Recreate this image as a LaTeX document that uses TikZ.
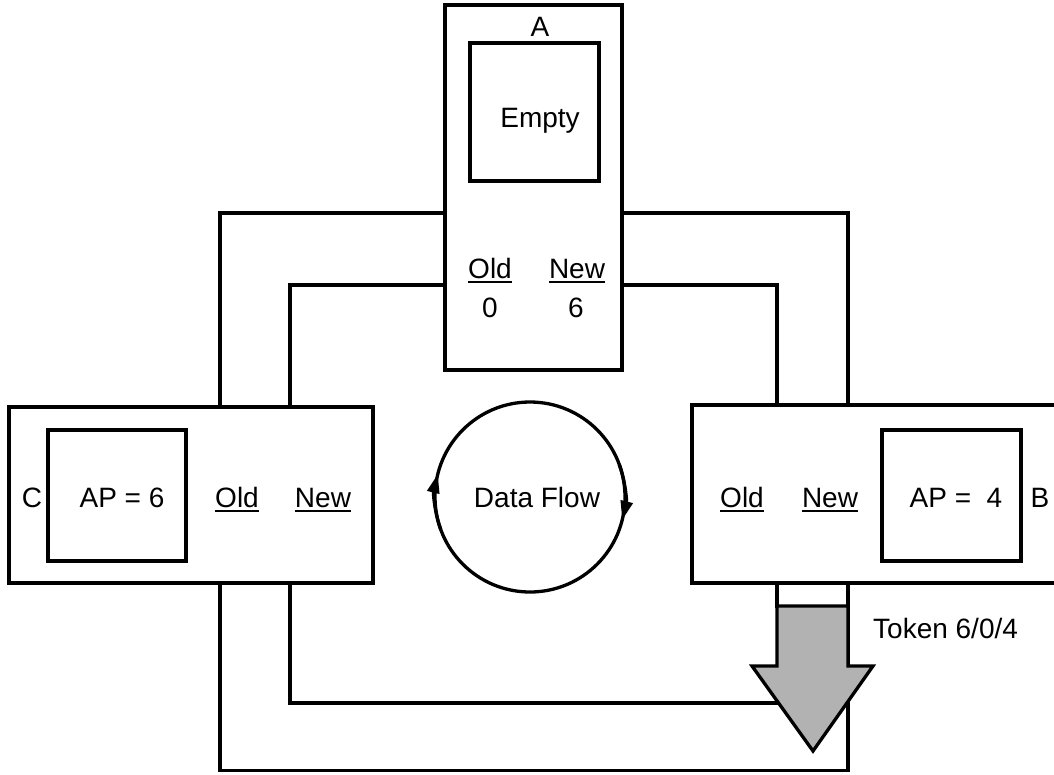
\documentclass[tikz,border=0pt]{standalone}
\usepackage{fontspec}
\setmainfont{Liberation Sans}
\usetikzlibrary{arrows.meta}
\newcommand\ulw[1]{\setbox0\hbox{#1}\rlap{\rule[-5pt]{\wd0}{2.4pt}}\box0}
\tikzset{
  wall/.style={line width=3.3pt, line join=miter, line cap=rect},
  boxnode/.style={draw, line width=3.3pt, rectangle, inner sep=0pt},
  lbl/.style={inner sep=0pt, anchor=base, font=\fontsize{28}{34}\selectfont},
  tokenfill/.style={fill=black!30, draw, line width=3.3pt, line join=miter},
  flowtip/.tip={Triangle[length=19pt,width=12pt]},
  flowline/.style={line width=3.3pt},
}
\begin{document}
\begin{tikzpicture}[x=1pt,y=-1pt]
\useasboundingbox (0,0) rectangle (1054,774);
% boxes
\node[boxnode, minimum width=177pt, minimum height=365pt] (A) at (533.5,187.5) {};
\node[boxnode, minimum width=129pt, minimum height=138pt] (Ain) at (534.5,112) {};
\node[boxnode, minimum width=364pt, minimum height=176pt] (C) at (191,495) {};
\node[boxnode, minimum width=138pt, minimum height=131pt] (Cin) at (117,495.5) {};
\node[boxnode, minimum width=390pt, minimum height=178pt] (B) at (887,494) {};
\node[boxnode, minimum width=139pt, minimum height=131pt] (Bin) at (951.5,495.5) {};
% channel levels
\coordinate (yo) at (0,213);
\coordinate (yi) at (0,285);
\coordinate (xol) at (220,0);
\coordinate (xil) at (290,0);
\coordinate (xor) at (848,0);
\coordinate (xir) at (777,0);
\coordinate (ybo) at (0,770.5);
\coordinate (ybi) at (0,703);
% outer channel
\draw[wall] (A.west |- yo) -| (C.north -| xol);
\draw[wall] (C.south -| xol) |- (ybo -| xor) -- (B.south -| xor);
\draw[wall] (B.north -| xor) |- (A.east |- yo);
% inner channel
\draw[wall] (A.west |- yi) -| (C.north -| xil);
\draw[wall] (C.south -| xil) |- (ybi -| xir);
\draw[wall] (B.north -| xir) |- (A.east |- yi);
\draw[wall] (B.south -| xir) -- (777,606);
% token arrow
\coordinate (tk) at (813,751);
\draw[tokenfill] (777,606) -- (848,606) -- (848,666) -- (873,666) -- (tk) -- (752,666) -- (777,666) -- cycle;
% data flow circle
\coordinate (fc) at (530,497);
\draw[flowline] (fc) circle[radius=95];
\draw[flowline, -{flowtip}] ([shift={(160:95)}]fc) arc[start angle=160, end angle=194, radius=95];
\draw[flowline, -{flowtip}] ([shift={(-20:95)}]fc) arc[start angle=-20, end angle=14, radius=95];
% labels
\node[lbl] (tA) at (540,36) {A};
\node[lbl] (tEmpty) at (540,127) {Empty};
\node[lbl] (tAold) at (490,278) {\ulw{Old}};
\node[lbl] (tAnew) at (577,278) {\ulw{New}};
\node[lbl] (tA0) at (490,317) {0};
\node[lbl] (tA6) at (576,317) {6};
\node[lbl] (tC) at (32,507) {C};
\node[lbl] (tCap) at (122,507) {AP = 6};
\node[lbl] (tCold) at (237,507) {\ulw{Old}};
\node[lbl] (tCnew) at (323,507) {\ulw{New}};
\node[lbl] (tBold) at (742,507) {\ulw{Old}};
\node[lbl] (tBnew) at (830,507) {\ulw{New}};
\node[lbl] (tBap) at (956,507) {AP =\ \ 4};
\node[lbl] (tB) at (1040,507) {B};
\node[lbl] (tFlow) at (537,507) {Data Flow};
\node[lbl, anchor=base west] (tTok) at (873,638) {Token 6/0/4};
\end{tikzpicture}
\end{document}
